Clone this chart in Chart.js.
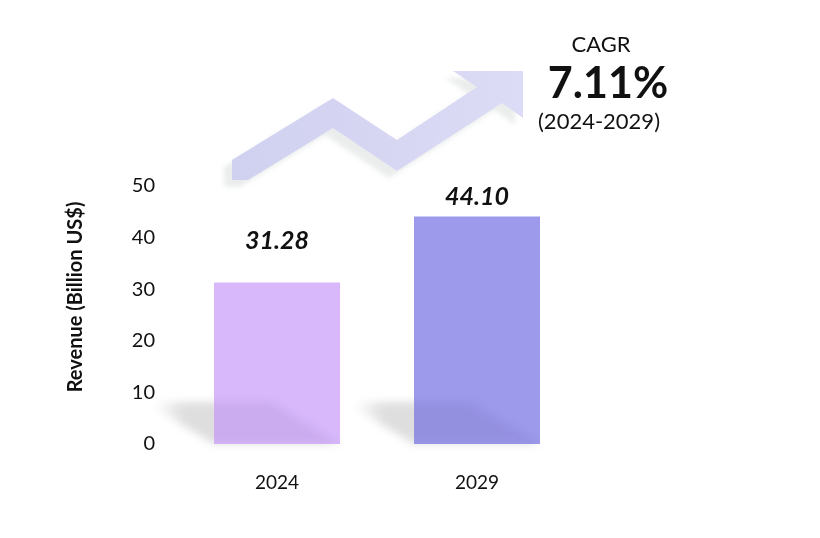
<!DOCTYPE html>
<html>
<head>
<meta charset="utf-8">
<script src="https://cdn.jsdelivr.net/npm/chart.js@4.4.0/dist/chart.umd.min.js"></script>
<style>
  html, body { margin: 0; padding: 0; background: #fff; }
  #revenueChart { display: block; }
</style>
</head>
<body>
<canvas id="revenueChart" width="820" height="538"></canvas>
<script>
const years = ['2024', '2029'];
const revenue = [31.28, 44.10];
const barColors = ['#d8b8fb', '#9d9aeb'];
const yTicks = [0, 10, 20, 30, 40, 50];
const axisTitle = 'Revenue (Billion US$)';
const cagrLabel = 'CAGR';
const cagrValue = '7.11%';
const cagrPeriod = '(2024-2029)';

const FONT = 'Lato, "Open Sans", sans-serif';

// decorative zigzag arrow behind the chart
const arrowPlugin = {
    id: 'arrow',
    beforeDraw(chart) {
        const c = chart.ctx;
        c.save();
        c.shadowColor = 'rgba(150,165,160,0.2)';
        c.shadowBlur = 5;
        c.shadowOffsetX = -8;
        c.shadowOffsetY = 7;
        const g = c.createLinearGradient(230, 0, 525, 0);
        g.addColorStop(0, 'rgba(208,208,240,1)');
        g.addColorStop(1, 'rgba(220,220,246,1)');
        c.fillStyle = g;
        c.beginPath();
        c.moveTo(232, 180);
        c.lineTo(232, 160);
        c.lineTo(333, 98);
        c.lineTo(397, 140);
        c.lineTo(477, 87);
        c.lineTo(453, 71);
        c.lineTo(523, 71);
        c.lineTo(523, 118);
        c.lineTo(502, 103);
        c.lineTo(397, 171);
        c.lineTo(333, 128);
        c.lineTo(248, 180);
        c.closePath();
        c.fill();
        c.restore();
    }
};

function shadowPath(c, bar) {
    const half = bar.width / 2;
    const left = bar.x - half, right = bar.x + half, base = bar.base;
    c.beginPath();
    c.moveTo(left, base);
    c.lineTo(right, base);
    c.lineTo(right - 70, base - 42);
    c.lineTo(left - 70, base - 42);
    c.closePath();
}

// soft floor shadows, value labels, axis title and CAGR text
const overlayPlugin = {
    id: 'overlay',
    beforeDatasetsDraw(chart) {
        const c = chart.ctx;
        const meta = chart.getDatasetMeta(0);
        c.save();
        c.filter = 'blur(4px)';
        meta.data.forEach(bar => {
            const left = bar.x - bar.width / 2;
            const g = c.createLinearGradient(left - 60, 0, left - 30, 0);
            g.addColorStop(0, 'rgba(0,0,0,0)');
            g.addColorStop(1, 'rgba(0,0,0,0.13)');
            c.fillStyle = g;
            shadowPath(c, bar);
            c.fill();
        });
        c.restore();
    },
    afterDatasetsDraw(chart) {
        const c = chart.ctx;
        const meta = chart.getDatasetMeta(0);
        meta.data.forEach(bar => {
            const half = bar.width / 2;
            c.save();
            c.beginPath();
            c.rect(bar.x - half, bar.y, bar.width, bar.base - bar.y);
            c.clip();
            c.filter = 'blur(4px)';
            c.fillStyle = 'rgba(40,20,80,0.07)';
            shadowPath(c, bar);
            c.fill();
            c.restore();
        });
        c.save();
        c.fillStyle = '#111';
        c.textAlign = 'center';
        c.textBaseline = 'middle';
        c.font = 'italic bold 25px ' + FONT;
        const gaps = [42, 20];
        meta.data.forEach((bar, i) => {
            c.fillText(revenue[i].toFixed(2), bar.x, bar.y - gaps[i]);
        });
        c.font = '22px ' + FONT;
        c.fillText(cagrLabel, 601, 45);
        c.font = 'bold 43px ' + FONT;
        c.fillText(cagrValue, 608, 84);
        c.font = '22px ' + FONT;
        c.fillText(cagrPeriod, 599, 122);
        c.translate(76, 297);
        c.rotate(-Math.PI / 2);
        c.font = 'bold 20px ' + FONT;
        c.fillText(axisTitle, 0, 0);
        c.restore();
    }
};

new Chart(document.getElementById('revenueChart').getContext('2d'), {
    type: 'bar',
    data: {
        labels: years,
        datasets: [{
            data: revenue,
            backgroundColor: barColors,
            borderWidth: 0,
            barPercentage: 0.63,
            categoryPercentage: 1
        }]
    },
    options: {
        responsive: false,
        animation: false,
        layout: { padding: { top: 186, left: 58, right: 243, bottom: 0 } },
        plugins: {
            legend: { display: false },
            tooltip: { enabled: false }
        },
        scales: {
            x: {
                grid: { display: false },
                border: { display: false },
                ticks: { color: '#111', font: { family: FONT, size: 19 }, padding: 19 },
                afterFit(scale) { scale.height = 94; }
            },
            y: {
                min: 0,
                max: 50,
                afterBuildTicks(scale) { scale.ticks = yTicks.map(v => ({ value: v })); },
                grid: { display: false },
                border: { display: false },
                ticks: { color: '#111', font: { family: FONT, size: 20 }, padding: 14 },
                afterFit(scale) { scale.width = 119; }
            }
        }
    },
    plugins: [arrowPlugin, overlayPlugin]
});
</script>
</body>
</html>
